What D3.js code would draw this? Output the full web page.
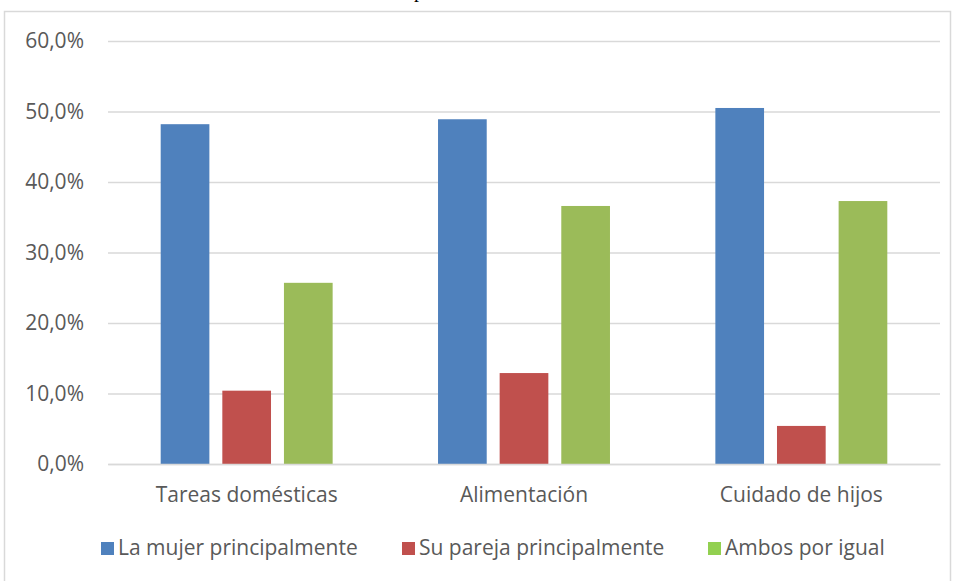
<!DOCTYPE html>
<html>
<head>
<meta charset="utf-8">
<script src="https://cdn.jsdelivr.net/npm/d3@7"></script>
<style>
  body { margin: 0; background: #fff; }
  text { font-family: "Open Sans", sans-serif; }
</style>
</head>
<body>
<div id="chart"></div>
<script>
// data
const categories = ["Tareas domésticas", "Alimentación", "Cuidado de hijos"]
const seriesNames = ["La mujer principalmente", "Su pareja principalmente", "Ambos por igual"]
const mujer = [0.482, 0.489, 0.505]
const pareja = [0.104, 0.129, 0.054]
const ambos = [0.257, 0.366, 0.373]
const yTicks = [0, 0.1, 0.2, 0.3, 0.4, 0.5, 0.6]

const barColors = ["#4f81bd", "#c0504d", "#9bbb59"]
const legendColors = ["#4f81bd", "#c0504d", "#92d050"]

const width = 956
const height = 581
const plotLeft = 108, plotRight = 940, plotTop = 41, plotBottom = 464
const fontSize = '21px'

const rows = categories.map((c, i) => ({ cat: c, values: [mujer[i], pareja[i], ambos[i]] }))

const svg = d3.select('#chart')
  .append('svg')
    .attr('width', width)
    .attr('height', height)

// frame of the chart area
svg.append('rect')
  .attr('x', 4.5).attr('y', 11.5)
  .attr('width', 946).attr('height', 620)
  .attr('fill', 'none')
  .attr('stroke', '#d9d9d9')
  .attr('stroke-width', 1.5)

// descender of the text line above the chart (cut off in the original too)
svg.append('text')
  .attr('x', 414).attr('y', -3)
  .style('font-family', '"Liberation Serif", serif')
  .style('font-size', '20px')
  .attr('fill', '#000')
  .text('p')

const locale = d3.formatLocale({ decimal: ",", thousands: ".", grouping: [3], currency: ["", "€"] })
const pct = locale.format(".1%")

const yScale = d3.scaleLinear()
  .domain([0, 0.6])
  .range([plotBottom, plotTop])

const xScale = d3.scaleBand()
  .domain(categories)
  .range([plotLeft, plotRight])
  .paddingInner(0.38)
  .paddingOuter(0.19)

const xSub = d3.scaleBand()
  .domain(d3.range(seriesNames.length))
  .range([0, xScale.bandwidth()])
  .paddingInner(0.21)

// grid + y labels
const yAxis = svg.append('g')
  .attr('transform', 'translate(' + plotLeft + ',0)')
  .call(d3.axisLeft(yScale)
    .tickValues(yTicks)
    .tickSize(-(plotRight - plotLeft))
    .tickPadding(24)
    .tickFormat(pct))
yAxis.select('.domain').remove()
yAxis.selectAll('.tick line')
  .attr('stroke', '#d9d9d9')
  .attr('stroke-width', 1.5)
yAxis.selectAll('.tick text')
  .attr('fill', '#595959')
  .style('font-size', fontSize)

// bars
const groups = svg.selectAll('.cat')
  .data(rows)
  .enter()
  .append('g')
    .attr('class', 'cat')
    .attr('transform', d => 'translate(' + xScale(d.cat) + ',0)')

groups.selectAll('rect')
  .data(d => d.values)
  .enter()
  .append('rect')
    .attr('x', (v, i) => xSub(i))
    .attr('y', v => yScale(v))
    .attr('width', xSub.bandwidth())
    .attr('height', v => plotBottom - yScale(v))
    .attr('fill', (v, i) => barColors[i])

// x axis labels
const xAxis = svg.append('g')
  .attr('transform', 'translate(0,' + plotBottom + ')')
  .call(d3.axisBottom(xScale).tickSize(0).tickPadding(23))
xAxis.select('.domain')
  .attr('stroke', '#d9d9d9')
  .attr('stroke-width', 1.5)
xAxis.selectAll('.tick text')
  .attr('fill', '#595959')
  .style('font-size', fontSize)

// legend
const legendX = [101, 402, 708]
const legend = svg.selectAll('.leg')
  .data(seriesNames)
  .enter()
  .append('g')
    .attr('class', 'leg')
    .attr('transform', (d, i) => 'translate(' + legendX[i] + ',542)')

legend.append('rect')
  .attr('width', 13).attr('height', 13)
  .attr('fill', (d, i) => legendColors[i])

legend.append('text')
  .attr('x', 17).attr('y', 13)
  .attr('fill', '#595959')
  .style('font-size', fontSize)
  .text(d => d)
</script>
</body>
</html>
